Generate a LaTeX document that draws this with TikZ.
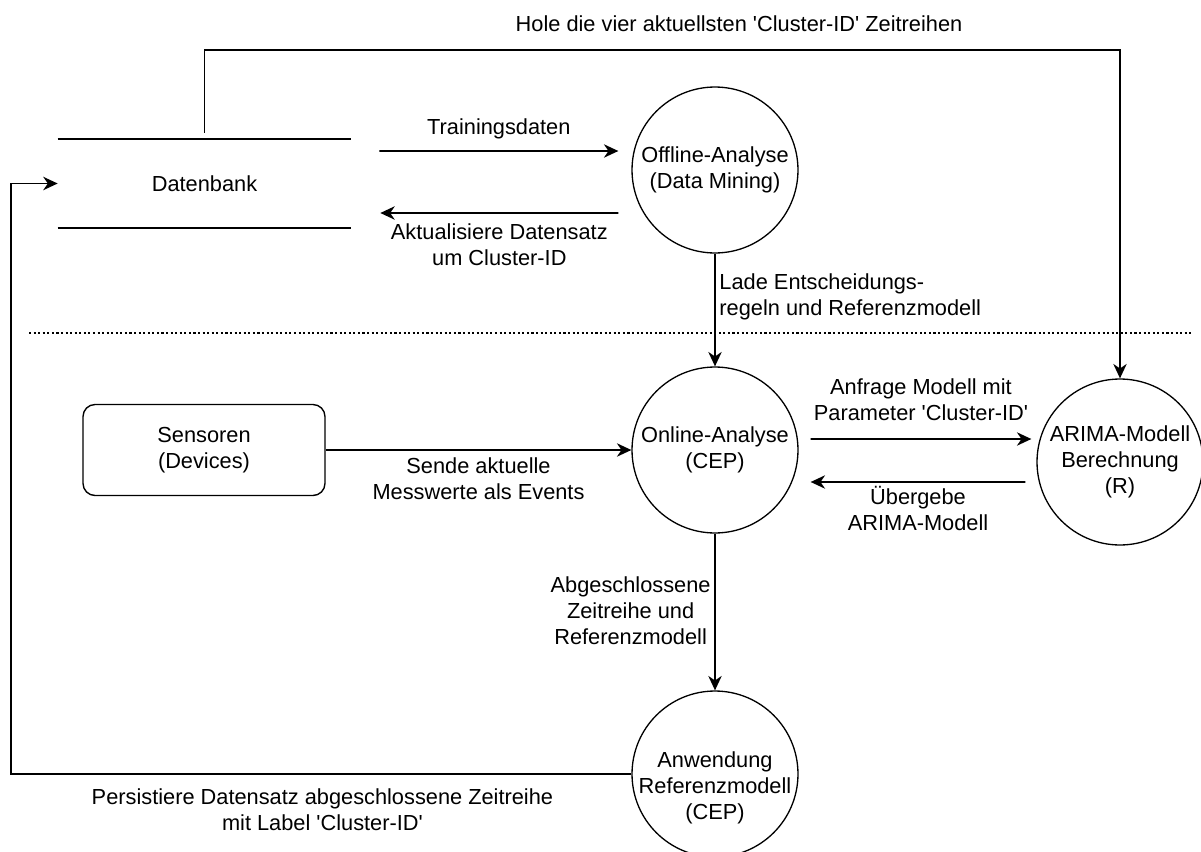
\documentclass[tikz,border=0pt]{standalone}
\usepackage{fontspec}
\setmainfont{Liberation Sans}
\usetikzlibrary{arrows.meta}
\newcommand{\q}{\textquotesingle}
\tikzset{
  proc/.style={draw, circle, line width=0.75pt, minimum size=3.32cm, inner sep=0pt, align=center},
  store/.style={minimum width=5.86cm, minimum height=1.78cm},
  device/.style={draw, rounded corners=0.24cm, line width=0.8pt, minimum width=4.84cm, minimum height=1.82cm, align=center},
  lbl/.style={align=center, inner sep=2pt},
  flow/.style={->, line width=1.1pt},
  >={Stealth[length=8.2pt, width=7.6pt, inset=2.6pt]}
}

\begin{document}
\begin{tikzpicture}[x=0.02cm, y=-0.02cm, font={\fontsize{12.4}{14.7}\selectfont}]
  \useasboundingbox (0,0) rectangle (1201,852);
  \node[store] (db) at (204.5,183.5) {Datenbank};
  \draw[line width=1pt] (db.north west) -- (db.north east);
  \draw[line width=1pt] (db.south west) -- (db.south east);
  \node[proc] (off) at (715,170) {Offline-Analyse\\(Data Mining)};
  \node[proc] (onl) at (715,450) {Online-Analyse\\(CEP)};
  \node[proc] (arima) at (1120,462) {ARIMA-Modell\\Berechnung\\(R)};
  \node[proc, label={[align=center, yshift=-0.28cm]center:Anwendung\\Referenzmodell\\(CEP)}] (anw) at (715,774) {};
  \node[device] (sens) at (204,450) {Sensoren\\(Devices)};
  \coordinate (top) at (739,50);
  \coordinate (back) at (11,183.5);
  % offline / online
  \draw[line width=1.1pt, dash pattern=on 1.2pt off 1.4pt] (29,333) -- (1192,333);
  \draw[flow, shorten <=0.12cm] (db.north) |- (top) node[lbl, above=8pt]{Hole die vier aktuellsten \q Cluster-ID\q{} Zeitreihen} -| (arima.north);
  \draw[flow] ([xshift=0.56cm,yshift=0.65cm]db.east) -- node[lbl, above=4pt]{Trainingsdaten} ([xshift=-0.26cm,yshift=0.38cm]off.west);
  \draw[flow] ([xshift=-0.26cm,yshift=-0.86cm]off.west) -- node[lbl, below=3.5pt]{Aktualisiere Datensatz\\um Cluster-ID} ([xshift=0.58cm,yshift=-0.59cm]db.east);
  \draw[flow] (off) -- node[lbl, pos=0.38, right=0pt, align=left]{Lade Entscheidungs-\\regeln und Referenzmodell} (onl);
  \draw[flow] (sens) -- node[lbl, below=2pt]{Sende aktuelle\\Messwerte als Events} (onl);
  \draw[flow] ([xshift=0.24cm,yshift=0.22cm]onl.east) -- node[lbl, above=8pt]{Anfrage Modell mit\\Parameter \q Cluster-ID\q} ([xshift=-0.1cm,yshift=0.46cm]arima.west);
  \draw[flow] ([xshift=-0.22cm,yshift=-0.4cm]arima.west) -- node[lbl, below=0pt]{Übergebe\\ARIMA-Modell} ([xshift=0.24cm,yshift=-0.64cm]onl.east);
  \draw[flow] (onl) -- node[lbl, pos=0.49, left=0pt]{Abgeschlossene\\Zeitreihe und\\Referenzmodell} (anw);
  \draw[flow] (anw.west) -| node[lbl, pos=0.249, below=6pt]{Persistiere Datensatz abgeschlossene Zeitreihe\\mit Label \q Cluster-ID\q} (back) -- (db.west);
\end{tikzpicture}
\end{document}
